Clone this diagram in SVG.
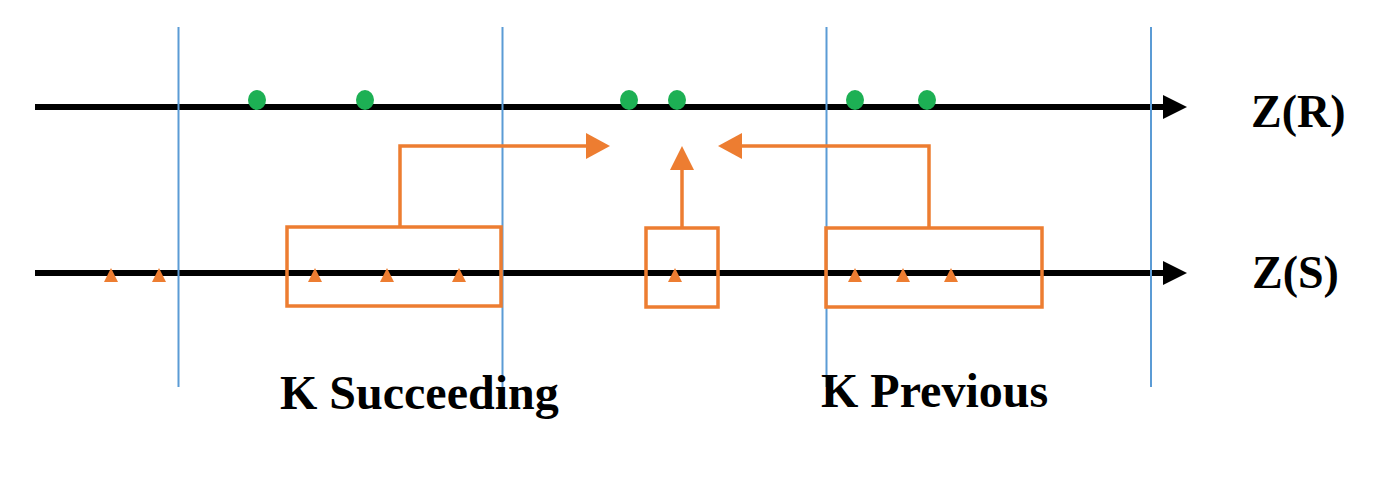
<svg xmlns="http://www.w3.org/2000/svg" width="1392" height="478" viewBox="0 0 1392 478">
<defs>
<style>
.axis{stroke:#000;stroke-width:6;fill:none}
.sep{stroke:#5B9BD5;stroke-width:2;fill:none}
.dot{fill:#1DB054}
.tri{fill:#ED7D31}
.box{stroke:#ED7D31;stroke-width:3.5;fill:none}
.conn{stroke:#ED7D31;stroke-width:3.5;fill:none}
.lbl{font-family:"Liberation Serif","Times New Roman",serif;font-weight:bold;fill:#000}
</style>
</defs>
<rect width="1392" height="478" fill="#fff"/>
<g id="axes">
<line class="axis" x1="35" y1="107" x2="1166" y2="107"/>
<path d="M1163,95 L1187,107 L1163,119 Z" fill="#000"/>
<line class="axis" x1="35" y1="273" x2="1166" y2="273"/>
<path d="M1163,261 L1187,273 L1163,285 Z" fill="#000"/>
</g>
<g id="separators">
<line class="sep" x1="178.5" y1="27" x2="178.5" y2="387"/>
<line class="sep" x1="502.5" y1="27" x2="502.5" y2="387"/>
<line class="sep" x1="826.5" y1="27" x2="826.5" y2="387"/>
<line class="sep" x1="1151" y1="27" x2="1151" y2="387"/>
</g>
<g id="r-points">
<ellipse class="dot" cx="257" cy="100" rx="9" ry="10"/>
<ellipse class="dot" cx="365" cy="100" rx="9" ry="10"/>
<ellipse class="dot" cx="629" cy="100" rx="9" ry="10"/>
<ellipse class="dot" cx="677" cy="100" rx="9" ry="10"/>
<ellipse class="dot" cx="855" cy="100" rx="9" ry="10"/>
<ellipse class="dot" cx="927" cy="100" rx="9" ry="10"/>
</g>
<g id="s-points">
<path class="tri" d="M111,268 L118,282 L104,282 Z"/>
<path class="tri" d="M159,268 L166,282 L152,282 Z"/>
<path class="tri" d="M315,268 L322,282 L308,282 Z"/>
<path class="tri" d="M387,268 L394,282 L380,282 Z"/>
<path class="tri" d="M459,268 L466,282 L452,282 Z"/>
<path class="tri" d="M675,268 L682,282 L668,282 Z"/>
<path class="tri" d="M855,268 L862,282 L848,282 Z"/>
<path class="tri" d="M903,268 L910,282 L896,282 Z"/>
<path class="tri" d="M951,268 L958,282 L944,282 Z"/>
</g>
<g id="box-succeeding">
<rect class="box" x="287" y="227" width="214" height="79"/>
</g>
<g id="box-current">
<rect class="box" x="646" y="228" width="72" height="79"/>
</g>
<g id="box-previous">
<rect class="box" x="826" y="228" width="216" height="79"/>
</g>
<g id="connectors">
<path class="conn" d="M400,227 L400,146 L588,146"/>
<path d="M586,133 L610,146 L586,159 Z" fill="#ED7D31"/>
<path class="conn" d="M682,228 L682,168"/>
<path d="M670,170 L682,146 L694,170 Z" fill="#ED7D31"/>
<path class="conn" d="M929,228 L929,146 L740,146"/>
<path d="M742,133 L718,146 L742,159 Z" fill="#ED7D31"/>
</g>
<g id="labels">
<text class="lbl" x="1251" y="127" font-size="46">Z(R)</text>
<text class="lbl" x="1252" y="288" font-size="46">Z(S)</text>
<text class="lbl" x="280" y="409" font-size="48">K Succeeding</text>
<text class="lbl" x="821" y="407" font-size="48">K Previous</text>
</g>
</svg>
